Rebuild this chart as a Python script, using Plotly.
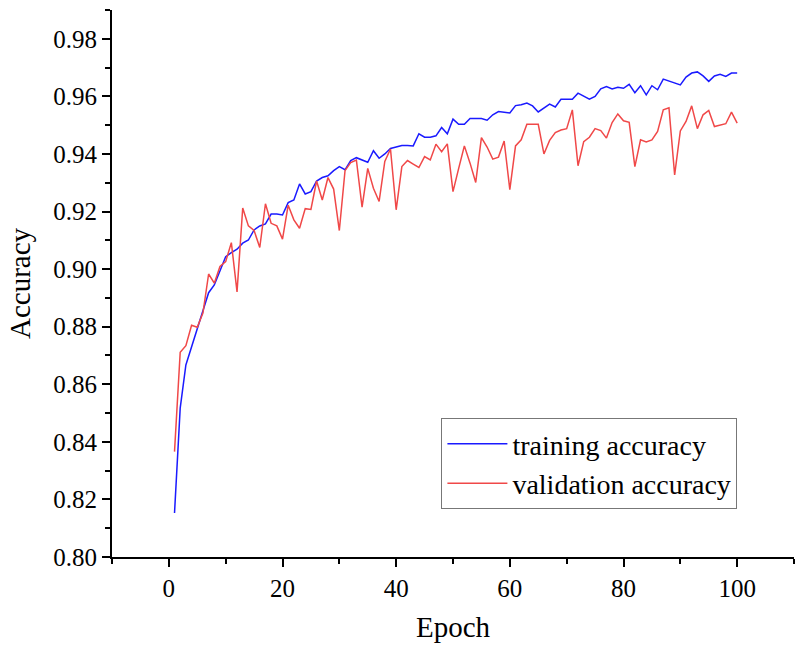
import plotly.graph_objects as go

epochs = list(range(1, 101))

training_accuracy = [
    0.8153, 0.8517, 0.8667, 0.8731, 0.8795, 0.8852, 0.8918, 0.8945, 0.8997, 0.9043,
    0.9057, 0.9069, 0.9090, 0.9101, 0.9136, 0.9150, 0.9157, 0.9191, 0.9191, 0.9188,
    0.9231, 0.9240, 0.9296, 0.9261, 0.9269, 0.9306, 0.9318, 0.9324, 0.9342, 0.9356,
    0.9345, 0.9377, 0.9387, 0.9379, 0.9371, 0.9411, 0.9385, 0.9400, 0.9419, 0.9424,
    0.9429, 0.9429, 0.9428, 0.9470, 0.9458, 0.9458, 0.9463, 0.9492, 0.9470, 0.9521,
    0.9503, 0.9503, 0.9523, 0.9523, 0.9523, 0.9517, 0.9536, 0.9547, 0.9545, 0.9542,
    0.9568, 0.9571, 0.9577, 0.9567, 0.9546, 0.9559, 0.9573, 0.9563, 0.9590, 0.9590,
    0.9590, 0.9611, 0.9600, 0.9590, 0.9600, 0.9626, 0.9634, 0.9626, 0.9632, 0.9628,
    0.9642, 0.9613, 0.9637, 0.9605, 0.9637, 0.9623, 0.9660, 0.9654, 0.9648, 0.9640,
    0.9667, 0.9681, 0.9685, 0.9671, 0.9652, 0.9671, 0.9677, 0.9669, 0.9681, 0.9681,
]

validation_accuracy = [
    0.8366, 0.8711, 0.8734, 0.8805, 0.8798, 0.8847, 0.8983, 0.8951, 0.9009, 0.9026,
    0.9092, 0.8921, 0.9212, 0.9150, 0.9134, 0.9075, 0.9227, 0.9159, 0.9150, 0.9104,
    0.9222, 0.9171, 0.9142, 0.9210, 0.9207, 0.9306, 0.9240, 0.9318, 0.9278, 0.9134,
    0.9342, 0.9370, 0.9379, 0.9215, 0.9350, 0.9281, 0.9235, 0.9374, 0.9417, 0.9206,
    0.9356, 0.9377, 0.9365, 0.9353, 0.9391, 0.9379, 0.9434, 0.9408, 0.9435, 0.9269,
    0.9350, 0.9428, 0.9368, 0.9301, 0.9457, 0.9424, 0.9382, 0.9389, 0.9445, 0.9276,
    0.9428, 0.9449, 0.9503, 0.9503, 0.9503, 0.9400, 0.9447, 0.9474, 0.9483, 0.9488,
    0.9553, 0.9359, 0.9443, 0.9458, 0.9488, 0.9481, 0.9455, 0.9509, 0.9539, 0.9515,
    0.9510, 0.9356, 0.9449, 0.9442, 0.9449, 0.9478, 0.9553, 0.9560, 0.9327, 0.9480,
    0.9513, 0.9567, 0.9488, 0.9536, 0.9551, 0.9495, 0.9500, 0.9505, 0.9545, 0.9507,
]

x_tick_values = [0, 20, 40, 60, 80, 100]
y_tick_values = [0.80, 0.82, 0.84, 0.86, 0.88, 0.90, 0.92, 0.94, 0.96, 0.98]

FONT = "Liberation Serif, Times New Roman, serif"

fig = go.Figure()
fig.add_trace(go.Scatter(
    x=epochs, y=training_accuracy, mode="lines", name="training accuracy",
    line=dict(color="#1a1aff", width=1.5),
))
fig.add_trace(go.Scatter(
    x=epochs, y=validation_accuracy, mode="lines", name="validation accuracy",
    line=dict(color="#f04848", width=1.5),
))

fig.update_layout(
    width=795, height=646,
    margin=dict(l=112, r=1, t=10, b=89),
    paper_bgcolor="white", plot_bgcolor="white",
    font=dict(family=FONT, color="black"),
    showlegend=True,
    legend=dict(
        x=0.483, y=0.254, xanchor="left", yanchor="top",
        bgcolor="white", bordercolor="#777777", borderwidth=1,
        font=dict(family=FONT, size=28, color="black"),
        tracegroupgap=0, itemwidth=60,
    ),
    xaxis=dict(
        range=[-10, 110], tickvals=x_tick_values, automargin=False,
        showline=True, linecolor="black", linewidth=2,
        ticks="outside", ticklen=8, tickwidth=2, tickcolor="black",
        minor=dict(dtick=10, tick0=0, ticks="outside", ticklen=5, tickwidth=2, tickcolor="black"),
        showgrid=False, zeroline=False, mirror=False,
        tickfont=dict(family=FONT, size=25),
        title=dict(text="Epoch", font=dict(family=FONT, size=29), standoff=16),
    ),
    yaxis=dict(
        range=[0.80, 0.99], tickvals=y_tick_values, tickformat=".2f", automargin=False,
        showline=True, linecolor="black", linewidth=2,
        ticks="outside", ticklen=8, tickwidth=2, tickcolor="black",
        minor=dict(dtick=0.01, tick0=0.80, ticks="outside", ticklen=5, tickwidth=2, tickcolor="black"),
        showgrid=False, zeroline=False, mirror=False,
        tickfont=dict(family=FONT, size=25),
        title=dict(text="Accuracy", font=dict(family=FONT, size=29), standoff=14),
    ),
)

fig.write_html(
    "out.html",
    config={"displayModeBar": False},
    post_script="document.body.style.margin='0';document.body.style.padding='0';document.body.style.overflow='hidden';",
)
